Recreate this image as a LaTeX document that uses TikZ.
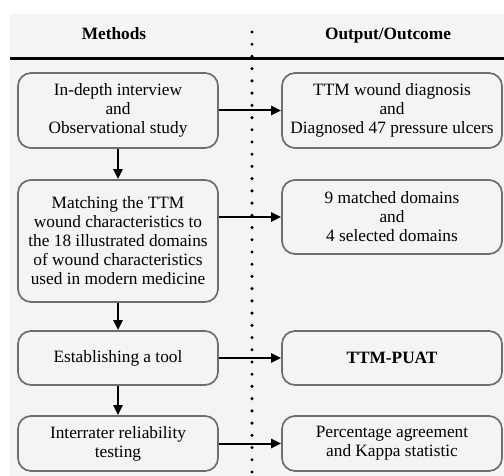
\documentclass[tikz,border=0pt]{standalone}
\usepackage{fontspec}
\setmainfont{Liberation Serif}
\usetikzlibrary{arrows.meta}
\definecolor{bggray}{HTML}{F4F4F4}
\definecolor{boxline}{HTML}{6E6E6E}
\begin{document}
\begin{tikzpicture}[x=1pt,y=-1pt,
  boxstyle/.style={draw=boxline, line width=1.7pt, rounded corners=13pt, fill=bggray,
    align=center, font=\fontsize{17.3}{19}\selectfont, inner sep=0pt},
  lbox/.style={boxstyle, minimum width=200pt},
  rbox/.style={boxstyle, minimum width=220pt},
  head/.style={font=\fontsize{17.3}{19}\selectfont\bfseries, anchor=base},
  arr/.style={line width=2pt, -{Triangle[length=10pt,width=9pt]}}
]
\useasboundingbox (0,0) rectangle (504,476);
\fill[bggray] (10,14) rectangle (504,476);
% headers
\node[head] (hm) at (114,39.5) {Methods};
\node[head] (ho) at (388,39.5) {Output/Outcome};
\draw[line width=2.6pt] (10,58.5) -- (504,58.5);
% dotted separator
\draw[line width=3.4pt, line cap=round, dash pattern=on 0pt off 12.222pt] (252,32) -- (252,476);
% left boxes
\node[lbox, minimum height=75pt] (l1) at (118,110.5) {In-depth interview\\and\\Observational study};
\node[lbox, minimum height=122pt] (l2) at (118,241) {Matching the TTM\\wound characteristics to\\the 18 illustrated domains\\of wound characteristics\\used in modern medicine};
\node[lbox, minimum height=54pt] (l3) at (118,358) {Establishing a tool};
\node[lbox, minimum height=55pt] (l4) at (118,443.5) {Interrater reliability\\testing};
% right boxes
\node[rbox, minimum height=75pt] (r1) at (392,110.5) {TTM wound diagnosis\\and\\Diagnosed 47 pressure ulcers};
\node[rbox, minimum height=74pt] (r2) at (392,217) {9 matched domains\\and\\4 selected domains};
\node[rbox, minimum height=54pt, font=\fontsize{17.3}{19}\selectfont\bfseries] (r3) at (392,358) {TTM-PUAT};
\node[rbox, minimum height=55pt] (r4) at (392,443.5) {Percentage agreement\\and Kappa statistic};
% vertical arrows
\draw[arr] (l1.south) -- (l2.north);
\draw[arr] (l2.south) -- (l3.north);
\draw[arr] (l3.south) -- (l4.north);
% horizontal arrows
\draw[arr] (l1.east) -- (r1.west);
\draw[arr] (l2.east |- r2.west) -- (r2.west);
\draw[arr] (l3.east) -- (r3.west);
\draw[arr] (l4.east) -- (r4.west);
\end{tikzpicture}
\end{document}
